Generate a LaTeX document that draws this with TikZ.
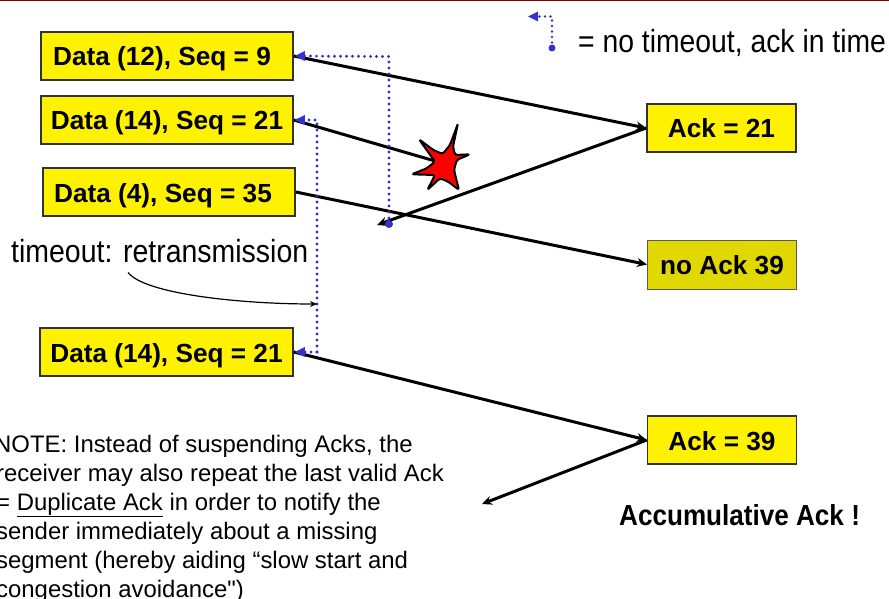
\documentclass[tikz,border=0pt]{standalone}
\usepackage{fontspec}
\setmainfont{Liberation Sans}
\newfontfamily\rawfont{Liberation Sans}
\usepackage{graphicx}
\usetikzlibrary{arrows.meta}
\definecolor{bluedot}{RGB}{51,51,204}
\definecolor{darkred}{RGB}{128,0,0}
\definecolor{dimyellow}{RGB}{224,216,0}
\tikzset{
  x=1pt,y=-1pt,
  box/.style={draw=black!80,line width=1.6pt,fill=yellow,inner sep=0pt,minimum height=48pt,text height=24pt,text depth=4pt,font=\fontsize{26.2}{28}\selectfont\bfseries,text=black},
  data/.style={box,minimum width=252pt},
  ack/.style={box,minimum width=149pt},
  flow/.style={line width=3pt,black,-{Stealth[length=10pt,width=9pt]}},
  plain/.style={line width=3pt,black},
  timer/.style={bluedot,line width=3.2pt,line cap=round,dash pattern=on 0pt off 6pt},
  tiphead/.style={fill=bluedot,draw=none},
  dotend/.style={circle,fill=bluedot,inner sep=0pt,minimum size=8pt},
  lbl/.style={inner sep=0pt,text=black,anchor=base west},
  note/.style={lbl,font=\fontsize{23.9}{26}\selectfont},
}
\begin{document}
\begin{tikzpicture}
\useasboundingbox (0,0) rectangle (889,599);
\fill[white] (0,0) rectangle (889,599);
\fill[darkred] (0,0) rectangle (889,1.2);

% boxes
\node[data] (d1) at (167,56) {Data (12), Seq = 9\hspace*{10pt}};
\node[data] (d2) at (167,120) {Data (14), Seq = 21};
\node[data] (d3) at (169,192) {Data (4), Seq = 35\hspace*{12pt}};
\node[data,minimum width=253pt] (d4) at (166.5,352) {Data (14), Seq = 21};
\node[ack] (a1) at (721.5,128) {Ack = 21};
\node[ack,minimum height=49pt,fill=dimyellow,draw=gray!70!black,line width=1pt] (a2) at (722,264.5) {no Ack 39};
\node[ack] (a3) at (722,440) {Ack = 39};

% free ends
\coordinate (lost) at (435,161);
\coordinate (ret1) at (377,225);
\coordinate (ret3) at (482,504);
\coordinate (t1) at (389,224);
\coordinate (t1c) at (389,56.5);
\coordinate (t2) at (317,352);
\coordinate (t2c) at (317,120);
\coordinate (l0) at (552,48);
\coordinate (l1) at (552,16.5);
\coordinate (l2) at (529,16.5);
\coordinate (curveA) at (128,272.5);
\coordinate (curveB) at (317,304);

% black connectors
\draw[flow] (d1.east) -- (a1.west);
\draw[plain] (d2.east) -- (lost);
\draw[flow] (d3.east) -- (a2.west);
\draw[flow] (a1.west) -- (ret1);
\draw[flow] (d4.east) -- (a3.west);
\draw[flow] (a3.west) -- (ret3);

% star
\draw[fill=red,draw=black,line width=2pt,line join=round,rounded corners=2.5pt]
 (458,123.3) -- (453,146.7) -- (455,155) -- (470,154.3) -- (456.7,160) -- (454,170) -- (459,190)
 -- (448.3,181.7) -- (440,178.3) -- (427.3,190) -- (435,175) -- (411.7,174.3) -- (426.7,168.3)
 -- (435,161.7) -- (419,139.3) -- (433.3,150) -- (442.7,154) -- (450,145) -- cycle;

% blue dotted
\draw[timer] (t1) -- (t1c) -- (d1.east);
\draw[timer] (t2) -- (t2c) -- (d2.east);
\draw[timer] (t2) -- (d4.east);
\draw[timer,line width=2.6pt,dash pattern=on 0pt off 5.5pt] (l0) -- (l1) -- (l2);
\node[dotend] (t1dot) at (t1) {};
\node[dotend,minimum size=7pt] (l0dot) at (l0) {};
\fill[tiphead] (d1.east) ++(1,0) -- ++(10,-5) -- ++(0,10) -- cycle;
\fill[tiphead] (d2.east) ++(1,0) -- ++(10,-5) -- ++(0,10) -- cycle;
\fill[tiphead] (d4.east) ++(1,0) -- ++(10,-5) -- ++(0,10) -- cycle;
\fill[tiphead] (l2) ++(-1,0) -- ++(10,-5) -- ++(0,10) -- cycle;

% curve
\draw[line width=1.2pt,black,-{Stealth[length=7pt,width=6pt]}] (curveA) .. controls (145,294) and (240,304) .. (curveB);

% labels
\node[lbl,font=\fontsize{32}{34}\selectfont] (legend) at (578,53) {\scalebox{0.885}[1]{= no timeout, ack in time}};
\node[lbl,font=\fontsize{32}{34}\selectfont] (tout) at (11,262) {\scalebox{0.89}[1]{timeout: retransmission}};
\node[lbl,font=\fontsize{29}{31}\selectfont\bfseries] (acc) at (619,525) {\scalebox{0.90}[1]{Accumulative Ack !}};

\node[note] (n1) at (-6,452) {NOTE: Instead of suspending Acks, the};
\node[note] (n2) at (-4,481) {receiver may also repeat the last valid Ack};
\node[note] (n3) at (-4,510) {= \underline{Duplicate Ack} in order to notify the};
\node[note] (n4) at (-4,539) {sender immediately about a missing};
\node[note] (n5) at (-4,568) {segment (hereby aiding “slow start and};
\node[note] (n6) at (-4,597) {congestion avoidance{\rawfont"})};
\end{tikzpicture}
\end{document}
